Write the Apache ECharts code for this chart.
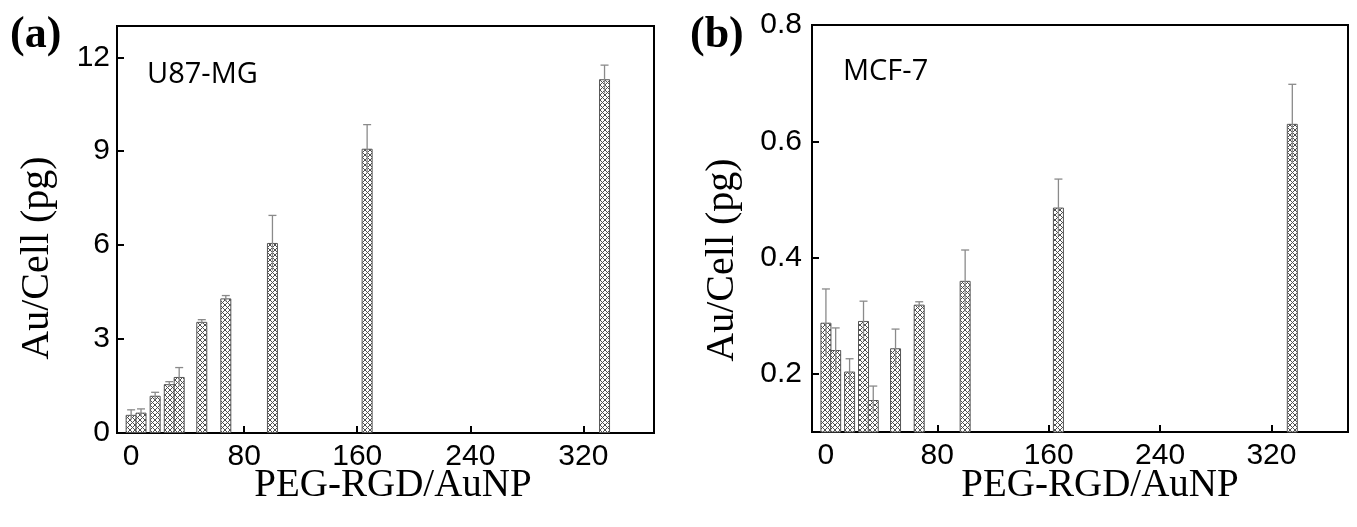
<!DOCTYPE html>
<html><head><meta charset="utf-8">
<script src="https://cdn.jsdelivr.net/npm/echarts@6/dist/echarts.min.js"></script>
<style>html,body{margin:0;padding:0;background:#fff}#c{width:1357px;height:527px}</style>
</head><body><div id="c"></div>
<script>
const ratios = [0, 7, 17, 27, 34, 50, 67, 100, 167, 335];
const u87Values = [0.58, 0.65, 1.19, 1.56, 1.79, 3.55, 4.30, 6.07, 9.08, 11.30];
const u87Errors = [0.16, 0.12, 0.11, 0.08, 0.30, 0.07, 0.09, 0.88, 0.77, 0.45];
const mcfValues = [0.288, 0.241, 0.204, 0.291, 0.155, 0.244, 0.319, 0.360, 0.486, 0.630];
const mcfErrors = [0.058, 0.038, 0.022, 0.034, 0.024, 0.033, 0.005, 0.053, 0.049, 0.068];
const xTicks = [0, 80, 160, 240, 320];
const u87YTicks = [0, 3, 6, 9, 12];
const mcfYTicks = [0.2, 0.4, 0.6, 0.8];
const panelLabels = ['(a)', '(b)'];
const cellLines = ['U87-MG', 'MCF-7'];
const xTitle = 'PEG-RGD/AuNP';
const yTitle = 'Au/Cell (pg)';

function hatch() {
  const c = document.createElement('canvas');
  c.width = c.height = 5;
  const g = c.getContext('2d');
  g.fillStyle = '#fff'; g.fillRect(0, 0, 5, 5);
  g.strokeStyle = '#505050'; g.lineWidth = 1;
  g.beginPath();
  g.moveTo(-1, -1); g.lineTo(6, 6);
  g.moveTo(6, -1); g.lineTo(-1, 6);
  g.stroke();
  return c;
}
const pattern = { image: hatch(), repeat: 'repeat' };

const tickFont = { fontSize: 30, fontFamily: 'Liberation Sans', color: '#000' };
function xAx(gi, max) {
  return {
    gridIndex: gi, type: 'value', min: -10, max: max,
    axisLine: { show: true, onZero: false, lineStyle: { color: '#000', width: 2 } },
    axisTick: { show: true, inside: true, length: 7, customValues: xTicks, lineStyle: { color: '#000', width: 2 } },
    axisLabel: Object.assign({ customValues: xTicks, margin: 9 }, tickFont),
    splitLine: { show: false }
  };
}
function yAx(gi, min, max, ticks, margin) {
  return {
    gridIndex: gi, type: 'value', min: min, max: max,
    axisLine: { show: true, onZero: false, lineStyle: { color: '#000', width: 2 } },
    axisTick: { show: true, inside: true, length: 7, customValues: ticks, lineStyle: { color: '#000', width: 2 } },
    axisLabel: Object.assign({ customValues: ticks, margin: margin }, tickFont),
    splitLine: { show: false }
  };
}
function barSeries(i, vals) {
  return {
    type: 'bar', xAxisIndex: i, yAxisIndex: i, barWidth: 11,
    data: ratios.map((r, k) => [r, vals[k]]),
    itemStyle: { color: pattern, borderColor: '#555', borderWidth: 1 },
    silent: true
  };
}
function errSeries(i, vals, errs) {
  return {
    type: 'custom', xAxisIndex: i, yAxisIndex: i, z: 5, clip: true, silent: true,
    data: ratios.map((r, k) => [r, vals[k] - errs[k], vals[k] + errs[k]]),
    renderItem: (params, api) => {
      const x = api.value(0);
      const lo = api.coord([x, api.value(1)]);
      const hi = api.coord([x, api.value(2)]);
      const w = 4;
      const st = { stroke: '#8a8a8a', lineWidth: 1.3 };
      return { type: 'group', children: [
        { type: 'line', shape: { x1: hi[0], y1: hi[1], x2: lo[0], y2: lo[1] }, style: st },
        { type: 'line', shape: { x1: hi[0] - w, y1: hi[1], x2: hi[0] + w, y2: hi[1] }, style: st }
      ] };
    }
  };
}
function txt(text, x, y, font, align, rot) {
  return { type: 'text', x: x, y: y, rotation: rot || 0,
    style: { text: text, font: font, fill: '#000', align: align || 'center', verticalAlign: 'middle' } };
}

const chart = echarts.init(document.getElementById('c'));
chart.setOption({
  animation: false,
  backgroundColor: '#fff',
  grid: [
    { left: 117, top: 26, right: 703, bottom: 94, show: true, borderColor: '#000', borderWidth: 2 },
    { left: 812, top: 25, right: 9, bottom: 95, show: true, borderColor: '#000', borderWidth: 2 }
  ],
  xAxis: [xAx(0, 370), xAx(1, 375)],
  yAxis: [yAx(0, 0, 13, u87YTicks, 7), yAx(1, 0.1, 0.8, mcfYTicks, 10)],
  series: [
    barSeries(0, u87Values), errSeries(0, u87Values, u87Errors),
    barSeries(1, mcfValues), errSeries(1, mcfValues, mcfErrors)
  ],
  graphic: [
    txt(panelLabels[0], 10, 36, 'bold 44px "Liberation Serif"', 'left'),
    txt(panelLabels[1], 690, 36, 'bold 44px "Liberation Serif"', 'left'),
    txt(cellLines[0], 147, 75, '29px "Open Sans"', 'left'),
    txt(cellLines[1], 843, 72, '29px "Open Sans"', 'left'),
    txt(xTitle, 393, 486, '39px "Liberation Serif"'),
    txt(xTitle, 1100, 486, '39px "Liberation Serif"'),
    txt(yTitle, 37, 258, '40px "Liberation Serif"', 'center', Math.PI / 2),
    txt(yTitle, 722, 260, '40px "Liberation Serif"', 'center', Math.PI / 2)
  ]
});
</script></body></html>
